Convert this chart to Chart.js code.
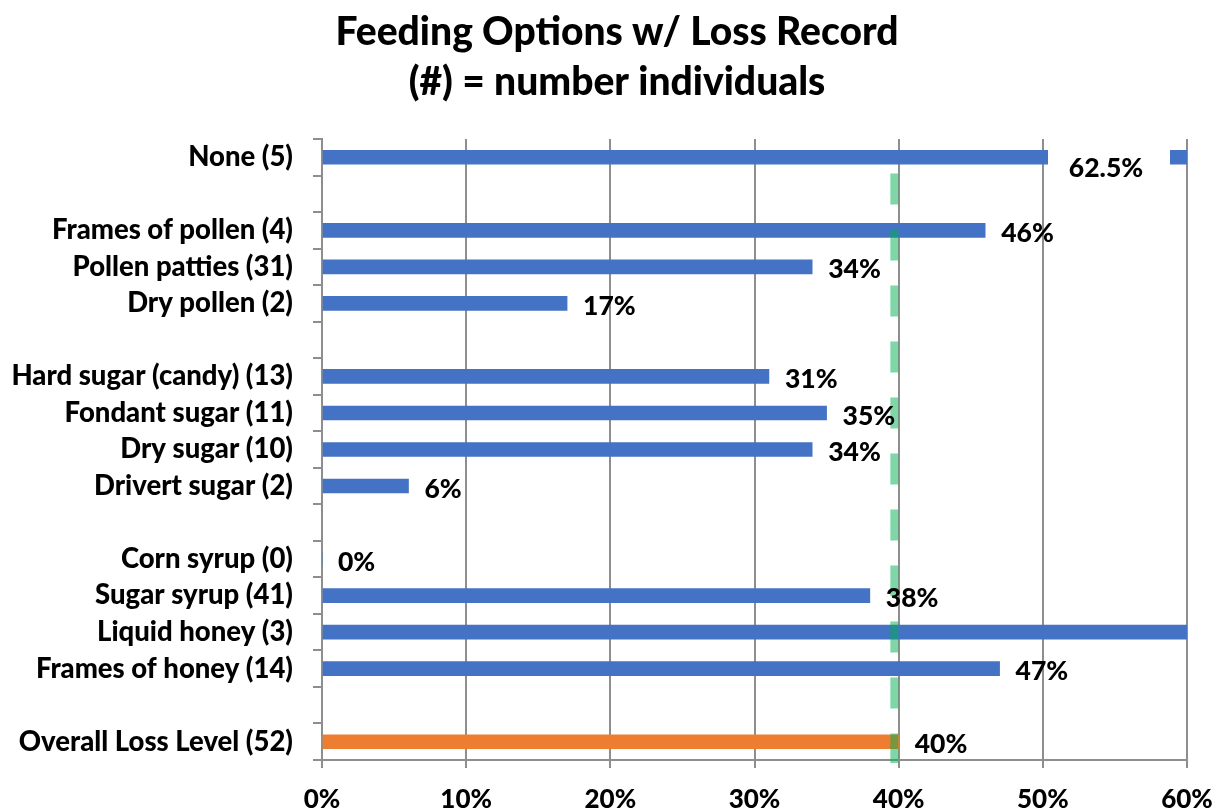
<!DOCTYPE html>
<html>
<head>
<meta charset="utf-8">
<title>Feeding Options w/ Loss Record</title>
<script src="https://cdn.jsdelivr.net/npm/chart.js@4/dist/chart.umd.min.js"></script>
<style>
  html, body { margin: 0; padding: 0; background: #fff; }
  #wrap { width: 1224px; height: 810px; }
</style>
</head>
<body>
<div id="wrap"><canvas id="chart" width="1224" height="810"></canvas></div>
<script>
// feeding options, blank entries are spacer rows between groups
const categories = [
  'None (5)', '',
  'Frames of pollen (4)', 'Pollen patties (31)', 'Dry pollen (2)', '',
  'Hard sugar (candy) (13)', 'Fondant sugar (11)', 'Dry sugar (10)', 'Drivert sugar (2)', '',
  'Corn syrup (0)', 'Sugar syrup (41)', 'Liquid honey (3)', 'Frames of honey (14)', '',
  'Overall Loss Level (52)'
];
const lossPct = [62.5, null, 46, 34, 17, null, 31, 35, 34, 6, null, 0, 38, 67, 47, null, 40];
const unlabeled = ['Liquid honey (3)'];
const averageLoss = 39.7;
const xTicks = [0, 10, 20, 30, 40, 50, 60];

const FONT = 'Lato, "Open Sans", sans-serif';
const BLUE = '#4472C4';
const ORANGE = '#ED7D31';
const GRID = '#8e8e8e';

const fmtPct = v => (Number.isInteger(v) ? v : v.toFixed(1)) + '%';

// dashed average line drawn over the bars
const averageLine = {
  id: 'averageLine',
  afterDatasetsDraw(chart) {
    const { ctx, scales: { x, y }, chartArea } = chart;
    const px = x.getPixelForValue(averageLoss);
    const top = (y.getPixelForValue(0) + y.getPixelForValue(1)) / 2 - 2;
    ctx.save();
    ctx.strokeStyle = 'rgba(0,176,80,0.5)';
    ctx.lineWidth = 8;
    ctx.setLineDash([31, 25]);
    ctx.beginPath();
    ctx.moveTo(px, top);
    ctx.lineTo(px, chartArea.bottom + 3);
    ctx.stroke();
    ctx.restore();
  }
};

// value labels to the right of each bar
const barLabels = {
  id: 'barLabels',
  afterDraw(chart) {
    const { ctx, scales: { x }, chartArea } = chart;
    const meta = chart.getDatasetMeta(0);
    ctx.save();
    ctx.font = '900 26.5px ' + FONT;
    ctx.fillStyle = '#000';
    ctx.textBaseline = 'middle';
    meta.data.forEach((bar, i) => {
      const v = lossPct[i];
      if (v === null || unlabeled.includes(categories[i])) return;
      if (v > x.max) {
        // off-scale bar: label sits in a gap cut into the bar
        const right = chartArea.right;
        ctx.fillStyle = '#fff';
        ctx.fillRect(right - 139, bar.y - 10, 122, 36);
        ctx.fillStyle = '#000';
        ctx.textAlign = 'center';
        ctx.fillText(fmtPct(v), right - 81, bar.y + 11);
      } else {
        ctx.textAlign = 'left';
        ctx.fillText(fmtPct(v), bar.x + 16, bar.y + 3);
      }
    });
    ctx.restore();
  }
};

new Chart(document.getElementById('chart'), {
  type: 'bar',
  data: {
    labels: categories,
    datasets: [{
      data: lossPct,
      backgroundColor: ctx => ctx.index === categories.length - 1 ? ORANGE : BLUE,
      barThickness: 14,
      borderWidth: 0
    }]
  },
  options: {
    indexAxis: 'y',
    responsive: false,
    animation: false,
    layout: { padding: { left: 10, right: 0, top: 0, bottom: 0 } },
    plugins: {
      legend: { display: false },
      tooltip: { enabled: false },
      title: {
        display: true,
        text: ['Feeding Options w/ Loss Record', '(#) = number individuals'],
        color: '#000',
        font: { family: FONT, size: 39, weight: 900, lineHeight: 1.282 },
        padding: { top: 7, bottom: 32 }
      }
    },
    scales: {
      x: {
        min: 0,
        max: 60,
        afterBuildTicks: s => { s.ticks = xTicks.map(value => ({ value })); },
        afterFit: s => { s.height = 50; s.paddingLeft = 0; s.paddingRight = 37; },
        ticks: {
          callback: v => v + '%',
          color: '#000',
          font: { family: FONT, size: 26, weight: 900 },
          padding: 16
        },
        grid: { color: GRID, lineWidth: 2, tickLength: 8 },
        border: { color: GRID, width: 2 }
      },
      y: {
        afterFit: s => { s.width = 312; },
        ticks: {
          color: '#000',
          font: { family: FONT, size: 27.5, weight: 900 },
          padding: 20,
          autoSkip: false
        },
        grid: { offset: true, drawOnChartArea: false, color: GRID, lineWidth: 2, tickLength: 9 },
        border: { color: GRID, width: 2 }
      }
    }
  },
  plugins: [averageLine, barLabels]
});
</script>
</body>
</html>
